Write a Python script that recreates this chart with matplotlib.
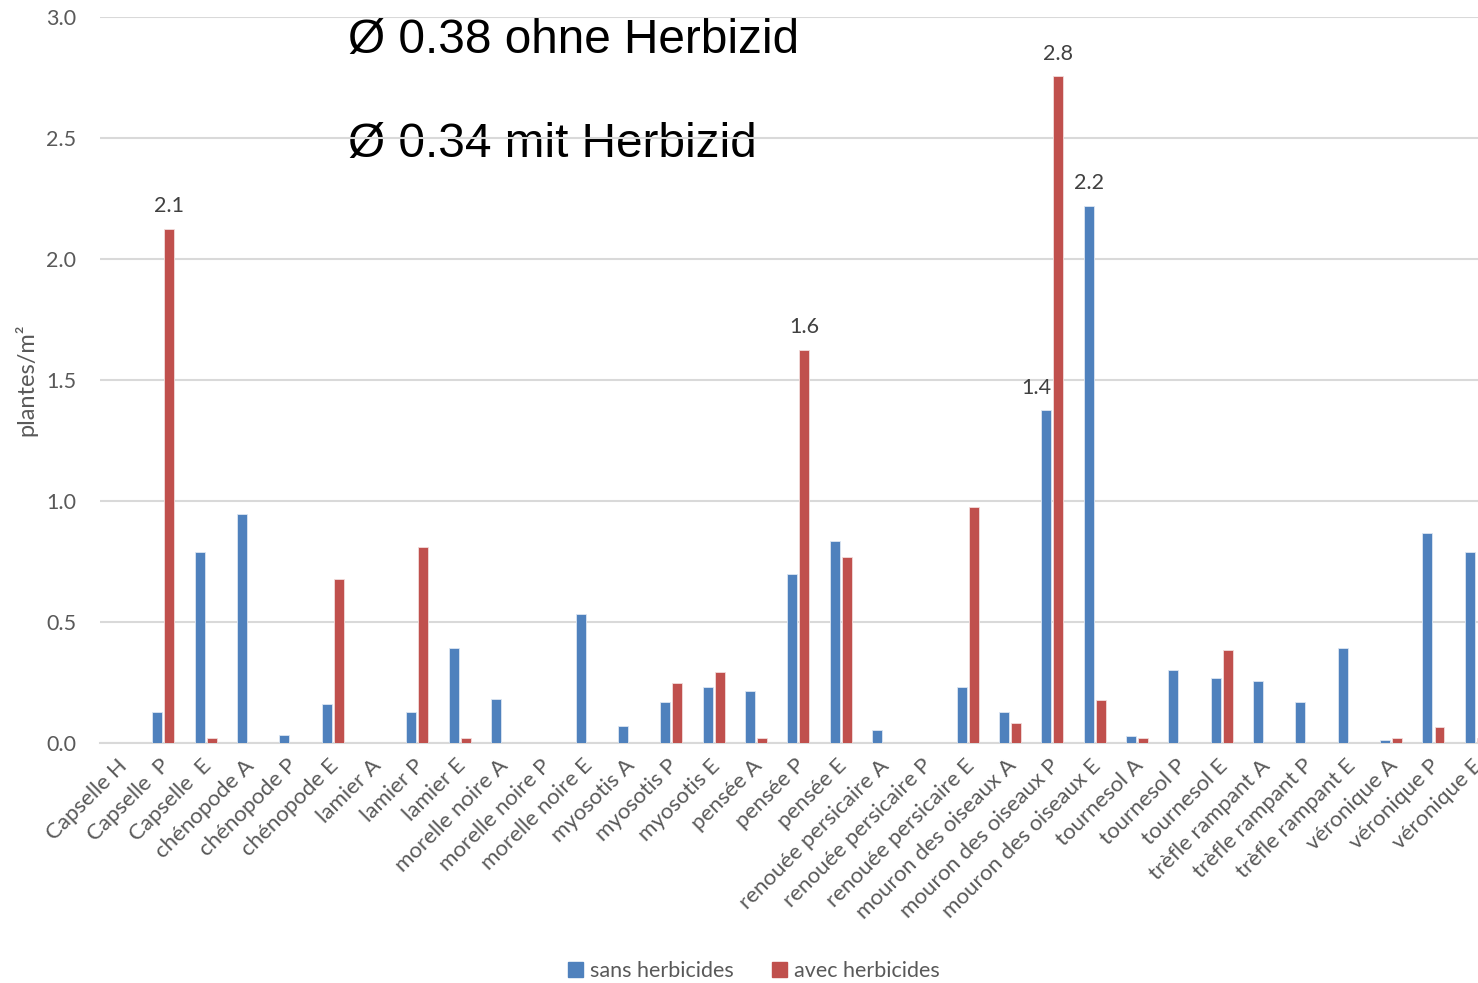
import matplotlib
matplotlib.use("Agg")
import matplotlib.pyplot as plt
import matplotlib.transforms as mtransforms
import numpy as np
from matplotlib.patches import Patch

# --- data -------------------------------------------------------------
categories = [
    "Capselle H", "Capselle  P", "Capselle  E",
    "chénopode A", "chénopode P", "chénopode E",
    "lamier A", "lamier P", "lamier E",
    "morelle noire A", "morelle noire P", "morelle noire E",
    "myosotis A", "myosotis P", "myosotis E",
    "pensée A", "pensée P", "pensée E",
    "renouée persicaire A", "renouée persicaire P", "renouée persicaire E",
    "mouron des oiseaux A", "mouron des oiseaux P", "mouron des oiseaux E",
    "tournesol A", "tournesol P", "tournesol E",
    "trèfle rampant A", "trèfle rampant P", "trèfle rampant E",
    "véronique A", "véronique P", "véronique E",
]

sans_herbicides = [
    0.00, 0.13, 0.79,
    0.945, 0.034, 0.16,
    0.00, 0.13, 0.393,
    0.18, 0.00, 0.532,
    0.069, 0.168, 0.23,
    0.213, 0.697, 0.836,
    0.055, 0.00, 0.23,
    0.128, 1.376, 2.22,
    0.028, 0.30, 0.267,
    0.256, 0.168, 0.393,
    0.012, 0.869, 0.788,
]

avec_herbicides = [
    0.00, 2.124, 0.022,
    0.00, 0.00, 0.679,
    0.00, 0.81, 0.022,
    0.00, 0.00, 0.00,
    0.00, 0.247, 0.293,
    0.02, 1.624, 0.77,
    0.00, 0.00, 0.975,
    0.084, 2.756, 0.179,
    0.02, 0.00, 0.383,
    0.00, 0.00, 0.00,
    0.02, 0.065, 0.02,
]

series_names = ["sans herbicides", "avec herbicides"]
labelled_sans = ["mouron des oiseaux P", "mouron des oiseaux E"]
labelled_avec = ["Capselle  P", "pensée P", "mouron des oiseaux P"]
mean_lines = ["Ø 0.38 ohne Herbizid", "Ø 0.34 mit Herbizid"]
y_label = "plantes/m²"
y_ticks = [0.0, 0.5, 1.0, 1.5, 2.0, 2.5, 3.0]

# --- styling ----------------------------------------------------------
BLUE = "#4F81BD"
RED = "#C0504D"
GRID = "#D9D9D9"
TEXT = "#595959"
plt.rcParams["font.family"] = ["Lato", "DejaVu Sans"]

W, H = 1478, 983
fig = plt.figure(figsize=(W / 100, H / 100), dpi=100)
# plot area runs a little past the right edge of the canvas
left_px, right_px, top_px, bottom_px = 99.7, 1497.0, 17.0, 743.0
ax = fig.add_axes([left_px / W, (H - bottom_px) / H,
                   (right_px - left_px) / W, (bottom_px - top_px) / H])

x = np.arange(len(categories))
bw = 0.235
off = 0.142
ax.bar(x - off, sans_herbicides, bw, color=BLUE, edgecolor="#DCE6F2",
       linewidth=0.6, zorder=3, label=series_names[0])
ax.bar(x + off, avec_herbicides, bw, color=RED, edgecolor="#F2DCDB",
       linewidth=0.6, zorder=3, label=series_names[1])

ax.set_xlim(-0.5, len(categories) - 0.5)
ax.set_ylim(0, 3.0)
ax.set_yticks(y_ticks)
ax.set_yticklabels([f"{v:.1f}" for v in y_ticks], fontsize=15.5, color=TEXT)
ax.yaxis.grid(True, color=GRID, linewidth=1.5, zorder=0.5)
ax.set_axisbelow(True)
for s in ("top", "right", "left"):
    ax.spines[s].set_visible(False)
ax.spines["bottom"].set_color(GRID)
ax.spines["bottom"].set_linewidth(1.5)
ax.tick_params(axis="both", length=0)
ax.tick_params(axis="y", pad=17)

ax.set_xticks(x)
ax.set_xticklabels(categories, rotation=45, ha="right", va="top",
                   rotation_mode="anchor", fontsize=16, color=TEXT)
ax.tick_params(axis="x", pad=9)
shift = mtransforms.ScaledTranslation(-4 / 100, 0, fig.dpi_scale_trans)
for lbl in ax.get_xticklabels():
    lbl.set_transform(lbl.get_transform() + shift)

ax.set_ylabel(y_label, fontsize=17, color=TEXT)
ax.yaxis.set_label_coords((37 - left_px) / (right_px - left_px), 0.5)

# value labels on selected bars
def put_label(xpos, val, dx=0):
    ax.annotate(f"{val:.1f}", (xpos, val), xytext=(dx, 9),
                textcoords="offset points", ha="center", va="bottom",
                fontsize=15.5, color="#404040", zorder=4)

for name in labelled_sans:
    i = categories.index(name)
    dx = -7 if avec_herbicides[i] > sans_herbicides[i] else 0
    put_label(i - off, sans_herbicides[i], dx)
for name in labelled_avec:
    i = categories.index(name)
    put_label(i + off, avec_herbicides[i])

# mean annotations, sitting underneath the gridlines
for line, ypx in zip(mean_lines, (53, 157)):
    ax.text(348 / W, (H - ypx) / H, line, transform=fig.transFigure,
            fontsize=34.4, family="Liberation Sans", color="black",
            va="baseline", ha="left", zorder=0.2, clip_on=False)

handles = [Patch(facecolor=BLUE, edgecolor=BLUE), Patch(facecolor=RED, edgecolor=RED)]
leg = fig.legend(handles, series_names, loc="center", bbox_to_anchor=(754 / W, (H - 971) / H),
                 ncol=2, frameon=False, fontsize=15.5, handlelength=0.7, handleheight=0.7,
                 handletextpad=0.3, columnspacing=1.8)
for t in leg.get_texts():
    t.set_color(TEXT)

fig.savefig("out.png", dpi=100, facecolor="white")
